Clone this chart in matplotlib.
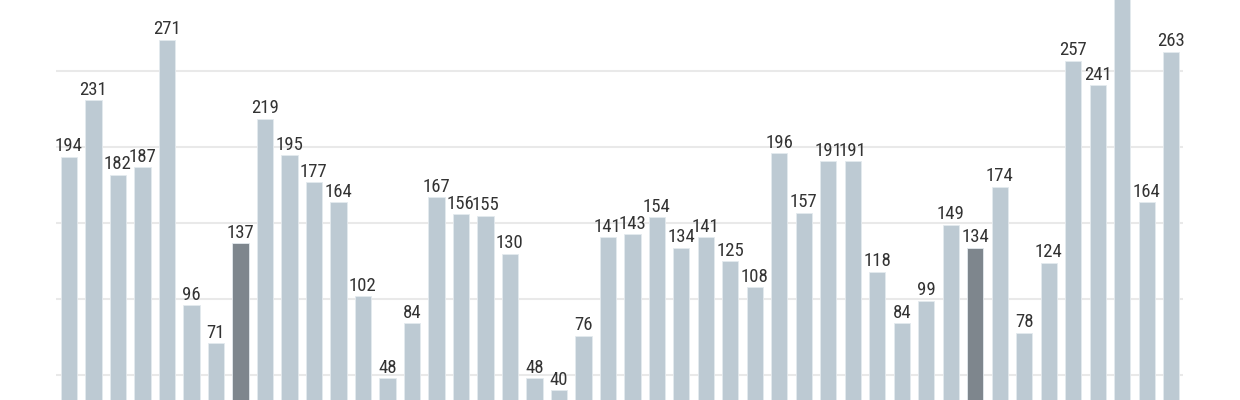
import matplotlib.pyplot as plt

# === Data ===
values = [194, 231, 182, 187, 271, 96, 71, 137, 219, 195, 177, 164, 102, 48, 84,
          167, 156, 155, 130, 48, 40, 76, 141, 143, 154, 134, 141, 125, 108, 196,
          157, 191, 191, 118, 84, 99, 149, 134, 174, 78, 124, 257, 241, 310, 164, 263]
highlight = [7, 37]  # bars drawn in the darker colour

light = '#bdcad3'
dark = '#7e868d'
colors = [dark if i in highlight else light for i in range(len(values))]

fig = plt.figure(figsize=(12.4, 4), dpi=100)
ax = fig.add_axes([56 / 1240, 0, (1183 - 56) / 1240, 1])

x = range(len(values))
bars = ax.bar(x, values, width=0.665, color=colors, edgecolor='#e4eaee', linewidth=0.6, zorder=2)

for xi, v in zip(x, values):
    ax.annotate(str(v), (xi, v), xytext=(0, 1), textcoords='offset points',
                ha='center', va='bottom', fontsize=13.5, color='#333333',
                family=['Roboto Condensed', 'Liberation Sans Narrow', 'Roboto'])

# gridlines every 50
for g in range(50, 301, 50):
    ax.axhline(g, color='#e9e9e9', linewidth=1.5, zorder=1)

ax.set_xlim(-0.53, len(values) - 1 + 0.48)
ax.set_ylim(33.6, 297.1)
ax.axis('off')

fig.savefig('out.png', dpi=100)
